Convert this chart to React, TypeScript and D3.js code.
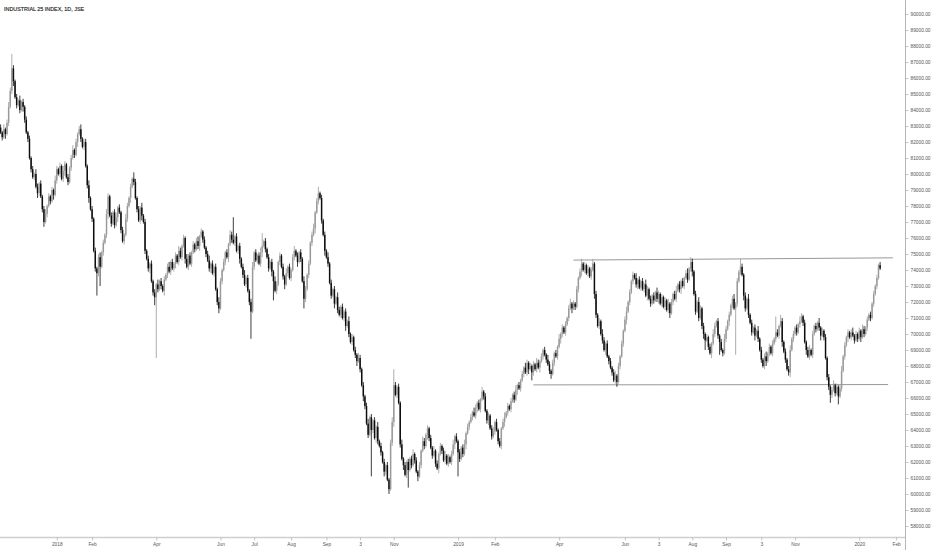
import React, { useEffect, useRef } from 'react';
import * as d3 from 'd3';

// daily closes, in hundreds of index points (826 = 82 600)
const closesNov17ToJun18 = [
  826, 823, 828, 825, 832, 842, 852, 866, 858, 848, 843, 846, 840, 845, 842, 834, 826, 822, 810, 803,
  798, 800, 792, 788, 794, 786, 778, 770, 775, 780, 786, 783, 790, 787, 796, 803, 800, 805, 797, 802,
  806, 798, 795, 804, 810, 815, 812, 820, 825, 828, 822, 817, 820, 805, 793, 785, 778, 772, 752, 741,
  738, 748, 742, 751, 757, 762, 775, 786, 774, 769, 776, 768, 773, 779, 776, 765, 758, 762, 772, 780,
  785, 792, 797, 795, 785, 778, 771, 779, 774, 770, 752, 747, 741, 744, 733, 726, 723, 731, 728, 733,
  730, 727, 734, 737, 742, 739, 745, 741, 744, 749, 745, 752, 748,
];
const closesJun18ToOct18 = [
  755, 760, 747, 742, 749, 744, 751, 756, 753, 758, 755, 761, 764, 759, 754, 750, 746, 741, 744, 738,
  742, 728, 720, 716, 733, 740, 745, 751, 748, 756, 762, 759, 757, 761, 752, 755, 747, 742, 737, 731,
  735, 727, 720, 714, 742, 751, 746, 749, 744, 751, 755, 758, 753, 748, 741, 745, 739, 733, 727, 731,
  745, 749, 742, 736, 731, 738, 742, 735, 740, 748, 752, 749, 745, 751, 747, 733, 722, 728, 737, 744,
  757, 762, 766, 776, 783, 788, 785, 771, 762, 752, 748, 744, 732, 724, 728, 719, 723, 715, 712, 717,
  710, 714, 705, 708, 700, 695, 698, 690,
];
const closesOct18ToApr19 = [
  687, 683, 685, 678, 668, 661, 655, 644, 637, 648, 640, 646, 635, 642, 633, 630, 626, 620, 614, 618,
  609, 603, 632, 645, 668, 662, 667, 657, 631, 622, 618, 612, 620, 615, 622, 618, 625, 621, 614, 611,
  618, 627, 633, 630, 637, 641, 635, 629, 624, 627, 619, 616, 625, 630, 627, 621, 624, 619, 623, 620,
  625, 631, 636, 633, 626, 622, 629, 625, 631, 638, 642, 645, 648, 651, 649, 654, 657, 653, 659, 664,
  661, 652, 646, 649, 641, 636, 639, 645, 640, 633, 630, 641, 645, 648, 651, 655, 653, 658, 662, 659,
  665, 668, 666, 671, 675, 679, 676, 682, 678,
];
const closesApr19ToAug19 = [
  680, 676, 681, 678, 682, 679, 683, 686, 690, 687, 684, 681, 677, 675, 682, 688, 686, 692, 697, 700,
  704, 701, 706, 710, 716, 719, 716, 719, 717, 728, 735, 739, 744, 740, 743, 738, 741, 736, 740, 744,
  725, 712, 705, 708, 700, 696, 690, 694, 686, 683, 679, 676, 671, 674, 670, 680, 686, 694, 702, 709,
  714, 720, 726, 733, 737, 735, 731, 734, 729, 733, 728, 731, 724, 728, 722, 719, 724, 721, 726, 722,
  725, 719, 723, 717, 721, 715, 719, 713, 720, 725, 722, 727, 731, 728, 733, 730, 735, 738, 734, 741,
  745, 739, 725, 714, 720, 710, 716, 705, 700, 696, 698,
];
const closesAug19ToJan20 = [
  692, 688, 694, 700, 705, 708, 699, 695, 690, 688, 697, 703, 708, 712, 718, 722, 716, 719, 733, 739,
  742, 737, 724, 716, 722, 712, 707, 701, 704, 699, 702, 697, 690, 684, 680, 686, 683, 688, 692, 688,
  694, 697, 701, 699, 705, 708, 695, 689, 684, 678, 676, 690, 697, 700, 704, 701, 706, 708, 711, 707,
  695, 690, 686, 690, 687, 700, 705, 703, 707, 704, 699, 702, 698, 685, 673, 667, 662, 665, 668, 663,
  667, 661, 666, 677, 686, 693, 698, 701, 698, 701, 699, 696, 700, 697, 702, 698, 703, 700, 704, 709,
  712, 710, 719, 725, 730, 735, 743, 741,
];
const firstOpen = 829;

// wick lengths beyond the body, in hundreds of points
const upperWicks = [
  2, 1, 3, 1, 2, 3, 2, 9, 2, 1, 2, 1, 3, 1, 2, 1, 2, 1, 2, 1,
  2, 1, 3, 2, 1, 2, 1, 2, 3, 1, 2, 1, 2, 1, 3, 2, 1, 2, 1, 3,
  2, 1, 2, 1, 2, 3, 1, 2, 1, 2, 3, 1, 2, 2, 1, 3, 1, 2, 1, 2,
  1, 2, 3, 1, 2, 1, 3, 2, 1, 2, 1, 2, 3, 1, 2, 1, 2, 1, 3, 2,
  1, 2, 1, 4, 2, 1, 2, 1, 3, 1, 2, 1, 2, 1, 2, 1, 2, 1, 3, 1,
  2, 1, 2, 1, 2, 3, 1, 2, 1, 2, 1, 3, 2, 1, 2, 1, 3, 1, 2, 1,
  2, 1, 2, 3, 1, 2, 1, 2, 1, 2, 3, 1, 2, 1, 2, 1, 3, 2, 1, 2,
  1, 2, 1, 3, 2, 14, 1, 2, 1, 2, 1, 2, 3, 1, 2, 1, 2, 3, 1, 2,
  1, 2, 3, 8, 1, 2, 1, 2, 1, 2, 1, 3, 2, 1, 2, 1, 2, 1, 3, 1,
  2, 1, 2, 3, 1, 2, 1, 2, 1, 3, 2, 1, 2, 1, 2, 3, 1, 2, 4, 1,
  2, 1, 2, 1, 3, 1, 2, 1, 2, 1, 3, 2, 1, 2, 1, 2, 1, 3, 1, 2,
  1, 2, 1, 3, 2, 1, 2, 1, 2, 3, 1, 2, 1, 2, 1, 3, 1, 2, 1, 2,
  1, 2, 1, 2, 3, 10, 2, 1, 2, 1, 3, 1, 2, 1, 2, 1, 2, 3, 1, 2,
  1, 2, 1, 3, 2, 1, 2, 1, 2, 1, 3, 1, 2, 1, 2, 1, 2, 3, 1, 2,
  1, 2, 3, 1, 2, 1, 2, 1, 2, 3, 1, 2, 1, 2, 1, 3, 2, 1, 2, 1,
  3, 1, 2, 1, 2, 1, 2, 3, 1, 2, 1, 2, 1, 2, 3, 1, 2, 1, 2, 1,
  2, 3, 1, 2, 1, 2, 1, 3, 2, 1, 2, 1, 2, 1, 3, 2, 1, 2, 1, 2,
  1, 3, 2, 1, 2, 1, 2, 1, 3, 1, 2, 1, 2, 1, 2, 3, 1, 2, 1, 2,
  1, 2, 3, 1, 2, 1, 2, 1, 2, 3, 1, 2, 1, 2, 1, 3, 2, 1, 2, 1,
  2, 1, 2, 3, 1, 2, 1, 2, 1, 2, 3, 1, 2, 1, 2, 1, 3, 1, 2, 1,
  2, 1, 3, 2, 1, 2, 1, 2, 1, 3, 2, 1, 2, 1, 2, 1, 3, 1, 2, 1,
  2, 3, 1, 2, 1, 2, 1, 2, 3, 1, 3, 2, 1, 2, 1, 3, 2, 1, 2, 1,
  2, 1, 2, 1, 3, 2, 1, 2, 1, 2, 1, 3, 2, 1, 2, 1, 2, 3, 1, 2,
  1, 5, 2, 1, 2, 1, 3, 1, 2, 1, 2, 1, 3, 1, 2, 1, 2, 3, 1, 2,
  1, 2, 1, 10, 2, 1, 4, 2, 1, 2, 1, 2, 3, 1, 2, 1, 2, 1, 3, 2,
  1, 2, 1, 2, 3, 1, 2, 1, 2, 1, 3, 1, 2, 1, 2, 1, 2, 1, 2, 3,
  1, 2, 1, 2, 3, 1, 2, 1, 2, 1, 2, 3, 1, 2, 1, 2, 1, 3, 2, 1,
  2, 1, 2, 1, 2, 1, 2, 1, 2,
];
const lowerWicks = [
  1, 2, 1, 3, 1, 2, 1, 2, 3, 1, 2, 1, 2, 1, 3, 2, 1, 2, 1, 2,
  1, 2, 1, 3, 2, 1, 2, 3, 1, 2, 1, 2, 1, 3, 1, 2, 1, 2, 1, 2,
  3, 1, 2, 1, 2, 1, 2, 1, 3, 1, 2, 1, 2, 1, 2, 3, 1, 2, 1, 2,
  14, 2, 12, 1, 2, 1, 2, 3, 1, 2, 1, 2, 1, 3, 1, 2, 1, 2, 1, 2,
  1, 3, 1, 2, 1, 2, 1, 2, 3, 1, 2, 1, 2, 3, 1, 2, 5, 38, 2, 1,
  2, 1, 3, 1, 2, 1, 2, 1, 2, 3, 1, 2, 1, 2, 1, 3, 1, 2, 1, 2,
  1, 2, 1, 2, 3, 1, 2, 1, 2, 1, 2, 3, 1, 2, 1, 2, 3, 1, 2, 1,
  2, 1, 3, 1, 2, 1, 2, 1, 2, 3, 1, 2, 1, 2, 1, 2, 17, 1, 2, 1,
  2, 1, 2, 3, 1, 2, 1, 2, 1, 3, 12, 1, 2, 1, 2, 1, 2, 3, 1, 2,
  1, 2, 1, 2, 1, 3, 1, 2, 1, 6, 2, 1, 2, 1, 2, 1, 3, 1, 2, 1,
  2, 1, 3, 1, 2, 1, 2, 1, 3, 1, 2, 1, 2, 1, 2, 3, 1, 2, 1, 2,
  1, 2, 3, 1, 2, 1, 3, 2, 1, 2, 1, 29, 2, 1, 3, 2, 1, 2, 1, 3,
  2, 1, 3, 1, 2, 3, 1, 2, 1, 2, 1, 3, 1, 2, 11, 1, 2, 1, 2, 1,
  3, 1, 2, 1, 2, 1, 3, 2, 1, 2, 1, 2, 1, 3, 1, 2, 1, 2, 1, 2,
  1, 2, 1, 3, 1, 15, 2, 1, 2, 1, 3, 1, 2, 1, 2, 1, 2, 3, 1, 2,
  1, 2, 1, 2, 3, 1, 2, 1, 2, 1, 2, 1, 2, 1, 3, 1, 2, 1, 2, 1,
  2, 1, 3, 1, 2, 1, 2, 1, 2, 3, 1, 5, 2, 1, 2, 1, 3, 1, 2, 1,
  2, 1, 2, 3, 1, 2, 1, 2, 1, 3, 2, 1, 2, 1, 2, 1, 3, 1, 2, 1,
  2, 1, 3, 1, 2, 1, 2, 1, 2, 1, 3, 2, 1, 2, 1, 2, 1, 3, 1, 2,
  1, 2, 1, 2, 3, 1, 2, 1, 2, 1, 3, 1, 2, 1, 2, 1, 2, 3, 1, 2,
  1, 2, 1, 3, 1, 2, 1, 2, 1, 2, 3, 1, 2, 1, 2, 1, 2, 3, 1, 2,
  1, 2, 1, 2, 3, 1, 2, 1, 2, 1, 2, 3, 1, 2, 1, 2, 1, 2, 3, 6,
  1, 2, 1, 3, 1, 2, 1, 2, 8, 1, 2, 1, 2, 1, 3, 1, 2, 1, 29, 2,
  1, 2, 1, 3, 2, 1, 2, 1, 2, 1, 3, 1, 2, 1, 2, 1, 2, 3, 1, 2,
  1, 2, 1, 2, 1, 2, 1, 3, 1, 2, 1, 2, 3, 1, 2, 1, 2, 1, 2, 1,
  2, 1, 3, 1, 2, 1, 2, 1, 2, 1, 2, 3, 1, 2, 1, 2, 2, 5, 2, 1,
  2, 1, 5, 1, 2, 1, 2, 1, 3, 1, 2, 1, 2, 1, 2, 1, 3, 1, 2, 1,
  2, 1, 2, 1, 2, 1, 2, 1, 1,
];

// x axis: trading-day index of each label
const xTickDays = [35, 57, 97, 137, 158, 181, 203, 224, 245, 285, 308, 348, 389, 410, 431, 452, 474, 495, 535, 558];
const xTickLabels = ['2018', 'Feb', 'Apr', 'Jun', 'Jul', 'Aug', 'Sep', '3', 'Nov', '2019', 'Feb', 'Apr', 'Jun', '3', 'Aug', 'Sep', '3', 'Nov', '2020', 'Feb'];

const yTickValues = [
  58000, 59000, 60000, 61000, 62000, 63000, 64000, 65000, 66000, 67000, 68000,
  69000, 70000, 71000, 72000, 73000, 74000, 75000, 76000, 77000, 78000, 79000,
  80000, 81000, 82000, 83000, 84000, 85000, 86000, 87000, 88000, 89000, 90000,
];

// drawn lines: [fromDay, fromLevel, toDay, toLevel]
const resistanceLine = [357, 74620, 556, 74760];
const supportLine = [332, 66820, 553, 66840];

const title = 'INDUSTRIAL 25 INDEX, 1D, JSE';

const FONT = '"Liberation Sans", Arial, sans-serif';

const IndustrialChart: React.FC = () => {
  const chartRef = useRef<SVGSVGElement | null>(null);

  useEffect(() => {
    if (!chartRef.current) return;
    const svg = d3.select(chartRef.current);
    svg.selectAll('*').remove();

    const closes = [
      ...closesNov17ToJun18,
      ...closesJun18ToOct18,
      ...closesOct18ToApr19,
      ...closesApr19ToAug19,
      ...closesAug19ToJan20,
    ].map(v => v * 100);

    const candles = closes.map((c, i) => {
      const o = i === 0 ? firstOpen * 100 : closes[i - 1];
      const h = Math.max(o, c) + (upperWicks[i] ?? 0) * 100;
      const l = Math.min(o, c) - (lowerWicks[i] ?? 0) * 100;
      return { i, o, h, l, c };
    });

    const axisX = 905.5;
    const axisY = 537.5;

    const x = d3.scaleLinear().domain([0, 548]).range([0.6, 880.1]);
    const y = d3.scaleLinear().domain([58000, 90000]).range([526, 14]);

    svg.append('rect').attr('width', 932).attr('height', 550).attr('fill', '#ffffff');

    // title
    svg.append('text')
      .attr('x', 4)
      .attr('y', 10.5)
      .attr('font-family', FONT)
      .attr('font-size', 5.4)
      .attr('fill', '#222')
      .attr('stroke', '#222')
      .attr('stroke-width', 0.15)
      .text(title);

    // trend lines
    const lines = [resistanceLine, supportLine];
    svg.selectAll('.level')
      .data(lines)
      .enter().append('line')
      .attr('class', 'level')
      .attr('x1', d => x(d[0]))
      .attr('y1', d => y(d[1]))
      .attr('x2', d => x(d[2]))
      .attr('y2', d => y(d[3]))
      .attr('stroke', '#8c8c8c')
      .attr('stroke-width', 0.9);

    // candles
    const upColor = '#999999';
    const downColor = '#0d0d0d';
    const g = svg.append('g');
    g.selectAll('.wick')
      .data(candles)
      .enter().append('line')
      .attr('class', 'wick')
      .attr('x1', d => x(d.i))
      .attr('x2', d => x(d.i))
      .attr('y1', d => y(d.h))
      .attr('y2', d => y(d.l))
      .attr('stroke', d => (d.c >= d.o ? upColor : downColor))
      .attr('stroke-width', 0.8);

    g.selectAll('.body')
      .data(candles)
      .enter().append('rect')
      .attr('class', 'body')
      .attr('x', d => x(d.i) - 0.72)
      .attr('width', 1.45)
      .attr('y', d => y(Math.max(d.o, d.c)))
      .attr('height', d => Math.max(0.8, Math.abs(y(d.o) - y(d.c))))
      .attr('fill', d => (d.c >= d.o ? upColor : downColor));

    // bottom axis
    svg.append('line')
      .attr('x1', 0).attr('x2', axisX)
      .attr('y1', axisY).attr('y2', axisY)
      .attr('stroke', '#cfcfcf')
      .attr('stroke-width', 1.5);

    const xAxis = svg.append('g')
      .attr('transform', `translate(0,${axisY})`)
      .call(
        d3.axisBottom(x)
          .tickValues(xTickDays)
          .tickFormat((_, k) => xTickLabels[k])
          .tickSize(3)
          .tickPadding(2)
      );
    xAxis.select('.domain').remove();
    xAxis.selectAll('line').attr('stroke', '#a0a0a0').attr('stroke-width', 0.6);
    xAxis.selectAll('text')
      .attr('font-family', FONT)
      .attr('font-size', 4.8)
      .attr('fill', '#555');

    // right axis
    svg.append('line')
      .attr('x1', axisX).attr('x2', axisX)
      .attr('y1', 0).attr('y2', 550)
      .attr('stroke', '#b5b5b5')
      .attr('stroke-width', 1);

    const yAxis = svg.append('g')
      .attr('transform', `translate(${axisX},0)`)
      .call(
        d3.axisRight(y)
          .tickValues(yTickValues)
          .tickFormat(d3.format('.2f'))
          .tickSize(3)
          .tickPadding(2)
      );
    yAxis.select('.domain').remove();
    yAxis.selectAll('line').attr('stroke', '#a0a0a0').attr('stroke-width', 0.6);
    yAxis.selectAll('text')
      .attr('font-family', FONT)
      .attr('font-size', 4.8)
      .attr('fill', '#555');
  }, []);

  return (
    <svg
      ref={chartRef}
      width="932"
      height="550"
      style={{ position: 'absolute', left: 0, top: 0, display: 'block' }}
    ></svg>
  );
};

export default function App() {
  return <IndustrialChart />;
}
